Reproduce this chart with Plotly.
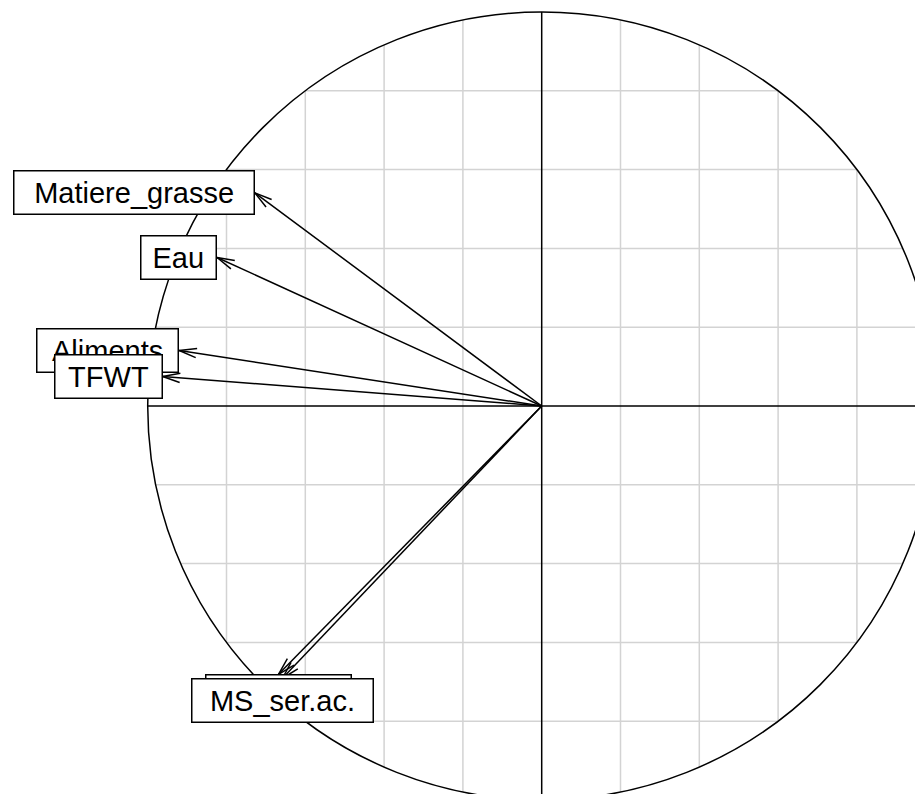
import numpy as np
import plotly.graph_objects as go

# ---- data (correlation circle coordinates) ----
variables = ["Matiere_grasse", "Eau", "Aliments", "TFWT", "MS_total", "MS_ser.ac."]
axis1 = [-0.728, -0.824, -0.920, -0.962, -0.668, -0.658]
axis2 = [0.541, 0.377, 0.141, 0.075, -0.681, -0.691]
grid_steps = [-0.8, -0.6, -0.4, -0.2, 0.2, 0.4, 0.6, 0.8]

# ---- geometry of the picture (page body has an 8px margin) ----
OFF = 8
W, H = 923 - OFF, 794 - OFF
PX = 394.0                         # pixels per unit
CX, CY = 541.7 - OFF, 406.0 - OFF  # origin, in figure pixels
xr = [-CX / PX, (W - CX) / PX]
yr = [-(H - CY) / PX, CY / PX]

FONT = "Liberation Sans, Arial, Helvetica, sans-serif"
# Arial advance widths (em) for computing the R-style label box
AW = {'M': .833, 'a': .556, 't': .278, 'i': .222, 'e': .556, 'r': .333, '_': .556,
      'g': .556, 's': .5, 'E': .667, 'u': .556, 'A': .667, 'l': .222, 'm': .833,
      'n': .556, 'T': .611, 'F': .611, 'W': .944, 'S': .667, '.': .278, 'c': .5,
      'o': .556, ' ': .278}

def box_width(lbl):
    return sum(AW.get(ch, .556) for ch in " " + lbl + " ") * 32.4

fig = go.Figure()

# grid chords clipped to the unit circle
gx, gy = [], []
for g in grid_steps:
    h = np.sqrt(1 - g * g)
    gx += [g, g, None, -h, h, None]
    gy += [-h, h, None, g, g, None]
fig.add_trace(go.Scatter(x=gx, y=gy, mode="lines", line=dict(color="#d3d3d3", width=1.5),
                         hoverinfo="skip", showlegend=False))

# axes through the origin
fig.add_trace(go.Scatter(x=[-1, 1, None, 0, 0], y=[0, 0, None, -1, 1], mode="lines",
                         line=dict(color="black", width=1.5), hoverinfo="skip", showlegend=False))

# arrows
ax_, ay_ = [], []
L = 18 / PX
ang = np.deg2rad(15)
for x, y in zip(axis1, axis2):
    ax_ += [0, x, None]
    ay_ += [0, y, None]
    th = np.arctan2(y, x)
    for s in (1, -1):
        a = th + np.pi + s * ang
        ax_ += [x, x + L * np.cos(a), None]
        ay_ += [y, y + L * np.sin(a), None]
fig.add_trace(go.Scatter(x=ax_, y=ay_, mode="lines", line=dict(color="black", width=1.5),
                         hoverinfo="skip", showlegend=False))

# unit circle
fig.add_shape(type="circle", x0=-1, x1=1, y0=-1, y1=1, xref="x", yref="y",
              line=dict(color="black", width=1.5), layer="above")

# labels (ade4 scatterutil.eti.circ placement)
for lbl, x, y in zip(variables, axis1, axis2):
    if x > y and x > -y:
        xa, ya = "left", "middle"
    elif x > y and x <= -y:
        xa, ya = "center", "top"
    elif x <= y and x <= -y:
        xa, ya = "right", "middle"
    else:
        xa, ya = "center", "bottom"
    fig.add_annotation(x=x, y=y, xref="x", yref="y", text=lbl, showarrow=False,
                       xanchor=xa, yanchor=ya, width=box_width(lbl) - 2, height=42,
                       align="center", valign="middle",
                       font=dict(family=FONT, size=29, color="black"),
                       bgcolor="white", bordercolor="black", borderwidth=1.5, borderpad=0)

fig.update_layout(
    width=W, height=H, margin=dict(l=0, r=0, t=0, b=0),
    paper_bgcolor="white", plot_bgcolor="white", showlegend=False,
    xaxis=dict(range=xr, visible=False, showgrid=False, zeroline=False, fixedrange=True),
    yaxis=dict(range=yr, visible=False, showgrid=False, zeroline=False, fixedrange=True),
)

fig.write_html("out.html")
